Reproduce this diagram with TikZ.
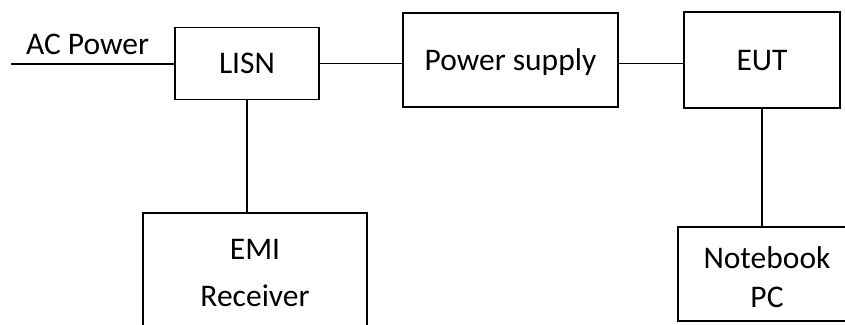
\documentclass[tikz,border=0pt]{standalone}
\usepackage{fontspec}
\setmainfont{Carlito}
\begin{document}
\begin{tikzpicture}[x=1pt,y=-1pt,
  box/.style={draw=black,line width=1.6pt,rectangle,inner sep=0pt,
    text height=20pt,text depth=0pt,font=\fontsize{31.5}{37}\selectfont},
  lbl/.style={inner sep=0pt,anchor=base,font=\fontsize{31.5}{37}\selectfont},
  wire/.style={draw=black,line width=1.6pt}]
\useasboundingbox (0,0) rectangle (845,324);
\clip (0,0) rectangle (845,324);
% boxes
\node[box,minimum width=144pt,minimum height=72pt] (lisn) at (247,63.3) {LISN};
\node[box,minimum width=215pt,minimum height=94pt] (ps) at (510.5,60) {Power supply};
\node[box,minimum width=156pt,minimum height=96pt] (eut) at (762,60) {EUT};
\node[box,minimum width=224pt,minimum height=130pt] (emi) at (255,278) {};
\node[box,minimum width=178pt,minimum height=94pt] (nb) at (767,274) {};
% multi-line texts
\node[lbl] (emit1) at (255,259) {EMI};
\node[lbl] (emit2) at (255,306) {Receiver};
\node[lbl] (nbt1) at (767,268) {Notebook};
\node[lbl] (nbt2) at (767,307) {PC};
% AC power
\coordinate (ac) at (11,64);
\node[lbl] (acl) at (87.5,54) {AC Power};
% connectors
\draw[wire] (ac) -- (ac -| lisn.west);
\draw[wire] (lisn.east) -- (lisn.east -| ps.west);
\draw[wire] (ps.east |- lisn.east) -- (eut.west |- lisn.east);
\draw[wire] (lisn.south) -- (lisn.south |- emi.north);
\draw[wire] (eut.south) -- (eut.south |- nb.north);
\end{tikzpicture}
\end{document}
